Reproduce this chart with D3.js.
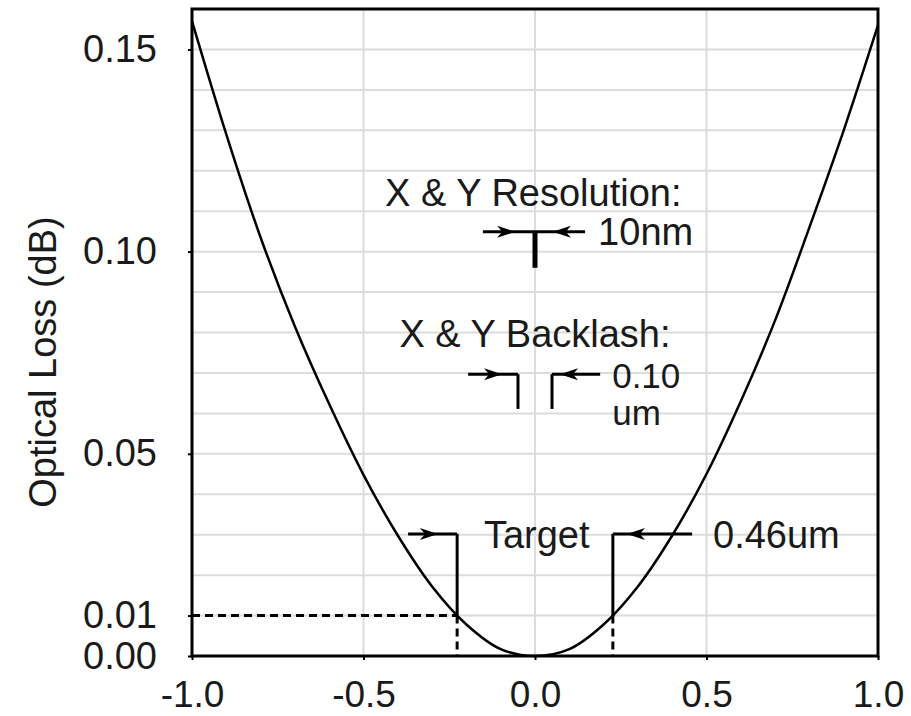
<!DOCTYPE html>
<html>
<head>
<meta charset="utf-8" />
<title>Optical loss vs offset</title>
<script src="https://cdn.jsdelivr.net/npm/d3@7"></script>
<style>
  body { margin: 0; padding: 0; background: #fff; }
  svg text { font-family: "Liberation Sans", Arial, sans-serif; fill: #1a1a1a; }
</style>
</head>
<body>
<div id="chart"></div>
<script>
// offset (um) vs loss (dB)
var offsets = [-1.0, -0.9, -0.8, -0.7, -0.6, -0.5, -0.4, -0.3, -0.2, -0.1, 0.0, 0.1, 0.2, 0.3, 0.4, 0.5, 0.6, 0.7, 0.8, 0.9, 1.0];
var losses  = [0.157, 0.129, 0.1035, 0.0815, 0.0623, 0.0448, 0.0298, 0.0172, 0.0078, 0.0017, 0.0, 0.0017, 0.0078, 0.0172, 0.0298, 0.0450, 0.0630, 0.0830, 0.1060, 0.130, 0.156];
var xTicks = [-1.0, -0.5, 0.0, 0.5, 1.0];
var yTicks = [0.00, 0.01, 0.05, 0.10, 0.15];
var yGrid  = d3.range(1, 16).map(function(d){ return d / 100; });
var xGrid  = [-0.5, 0.0, 0.5];
var target = 0.01, targetX = 0.227;

var W = 911, H = 716;
var x = d3.scaleLinear().domain([-1, 1]).range([192, 878]);
var y = d3.scaleLinear().domain([0, 0.16]).range([656, 9]);

var svg = d3.select("#chart").append("svg").attr("width", W).attr("height", H);

// grid
svg.append("g").selectAll("line").data(yGrid).enter().append("line")
  .attr("x1", x(-1)).attr("x2", x(1))
  .attr("y1", function(d){ return y(d); }).attr("y2", function(d){ return y(d); })
  .attr("stroke", "#dcdcdc").attr("stroke-width", 2);
svg.append("g").selectAll("line").data(xGrid).enter().append("line")
  .attr("y1", y(0)).attr("y2", y(0.16))
  .attr("x1", function(d){ return x(d); }).attr("x2", function(d){ return x(d); })
  .attr("stroke", "#dcdcdc").attr("stroke-width", 2);

// axes
var yAxis = svg.append("g").attr("transform", "translate(" + x(-1) + ",0)")
  .call(d3.axisLeft(y).tickValues(yTicks).tickFormat(function(d){ return d.toFixed(2); }).tickSize(4).tickPadding(31));
var xAxis = svg.append("g").attr("transform", "translate(0," + y(0) + ")")
  .call(d3.axisBottom(x).tickValues(xTicks).tickFormat(function(d){ return d.toFixed(1); }).tickSize(4).tickPadding(21));
[yAxis, xAxis].forEach(function(a){
  a.select(".domain").remove();
  a.selectAll(".tick line").attr("stroke", "#000").attr("stroke-width", 2);
  a.selectAll(".tick text").attr("font-size", 38).style("font-family", "Liberation Sans, Arial, sans-serif").attr("fill", "#1a1a1a");
});
xAxis.selectAll(".tick text").attr("font-size", 37).attr("dy", "0.71em");

// frame
svg.append("rect").attr("x", x(-1)).attr("y", y(0.16))
  .attr("width", x(1) - x(-1)).attr("height", y(0) - y(0.16))
  .attr("fill", "none").attr("stroke", "#000").attr("stroke-width", 3);

svg.append("text").attr("transform", "translate(56," + 362 + ") rotate(-90)")
  .attr("text-anchor", "middle").attr("font-size", 38).text("Optical Loss (dB)");

// curve
var pts = offsets.map(function(d, i){ return [d, losses[i]]; });
svg.append("path").datum(pts)
  .attr("d", d3.line().x(function(d){ return x(d[0]); }).y(function(d){ return y(d[1]); }).curve(d3.curveCatmullRom))
  .attr("fill", "none").attr("stroke", "#000").attr("stroke-width", 2.5);

// annotations
var ann = svg.append("g").attr("stroke", "#000").attr("fill", "none");
function seg(x1, y1, x2, y2, w, dash) {
  var l = ann.append("line").attr("x1", x(x1)).attr("y1", y(y1)).attr("x2", x(x2)).attr("y2", y(y2))
    .attr("stroke-width", w || 3);
  if (dash) l.attr("stroke-dasharray", dash);
}
function head(tx, ty, dir) {
  var px = x(tx), py = y(ty);
  svg.append("path")
    .attr("d", "M" + px + "," + py + "L" + (px - dir*18) + "," + (py - 6) + "L" + (px - dir*13) + "," + py + "L" + (px - dir*18) + "," + (py + 6) + "Z")
    .attr("fill", "#000");
}
function label(tx, ty, s, anchor, fs) {
  svg.append("text").attr("x", x(tx)).attr("y", y(ty)).attr("font-size", fs || 38)
    .attr("text-anchor", anchor || "start").text(s);
}

// resolution
seg(-0.152, 0.1049, 0.146, 0.1049, 3);
seg(0, 0.1049, 0, 0.096, 5);
head(-0.058, 0.1049, 1);
head(0.052, 0.1049, -1);
label(-0.005, 0.1113, "X & Y Resolution:", "middle");
label(0.184, 0.1016, "10nm");

// backlash
seg(-0.195, 0.0697, -0.0496, 0.0697, 3);
seg(-0.0496, 0.0697, -0.0496, 0.0611, 3);
seg(0.0496, 0.0611, 0.0496, 0.0697, 3);
seg(0.0496, 0.0697, 0.19, 0.0697, 3);
head(-0.096, 0.0697, 1);
head(0.073, 0.0697, -1);
label(0, 0.0764, "X & Y Backlash:", "middle");
label(0.225, 0.0663, "0.10", "start", 35);
label(0.225, 0.0572, "um", "start", 35);

// target
seg(-0.370, 0.0302, -targetX, 0.0302, 3);
seg(-targetX, 0.0302, -targetX, target, 3);
seg(targetX, target, targetX, 0.0302, 3);
seg(targetX, 0.0302, 0.458, 0.0302, 3);
head(-0.283, 0.0302, 1);
head(0.268, 0.0302, -1);
label(0.005, 0.0267, "Target", "middle");
label(0.519, 0.0267, "0.46um");

// 0.01 dB dashed guides
seg(-1, target, -targetX, target, 3, "8,5");
seg(-targetX, target, -targetX, 0, 3, "8,5");
seg(targetX, target, targetX, 0, 3, "8,5");
</script>
</body>
</html>
